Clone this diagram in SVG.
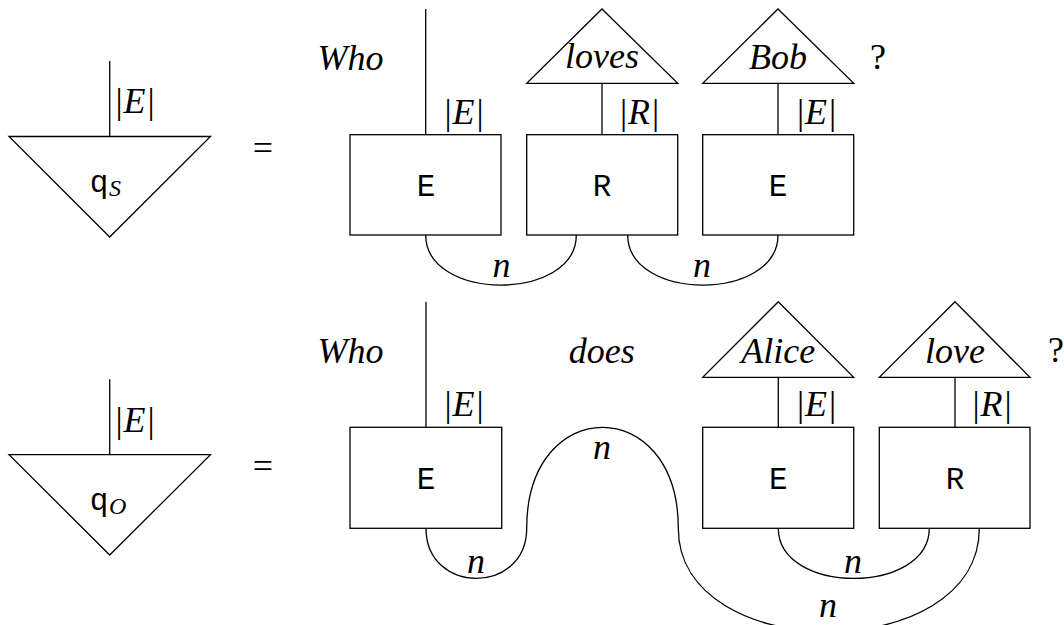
<svg xmlns="http://www.w3.org/2000/svg" width="1064" height="625" viewBox="0 0 1064 625">
<style>
.s{fill:#fff;stroke:#000;stroke-width:1.3}
.w{fill:none;stroke:#000;stroke-width:1.3}
.m{font-family:"Liberation Serif",serif;font-style:italic;font-size:36px;fill:#000;text-anchor:middle}
.r{font-family:"Liberation Serif",serif;font-size:36px;fill:#000;text-anchor:middle}
.t{font-family:"Liberation Mono",monospace;font-size:31px;fill:#000;text-anchor:middle}
.sub{font-family:"Liberation Serif",serif;font-style:italic;font-size:24px;fill:#000}
</style>
<g id="connectors">
<line class="w" x1="109.7" y1="61" x2="109.7" y2="136.5"/>
<line class="w" x1="425.7" y1="9" x2="425.7" y2="134.7"/>
<line class="w" x1="602" y1="83.3" x2="602" y2="134.7"/>
<line class="w" x1="778" y1="83.3" x2="778" y2="134.7"/>
<path class="w" d="M425.7,235 C425.7,301.7 576.3,301.7 576.3,235"/>
<path class="w" d="M627.7,235 C627.7,301.7 778,301.7 778,235"/>
<line class="w" x1="109.7" y1="379.3" x2="109.7" y2="454.7"/>
<line class="w" x1="426" y1="301.7" x2="426" y2="427.3"/>
<line class="w" x1="778.3" y1="377.3" x2="778.3" y2="427.3"/>
<line class="w" x1="955" y1="377.3" x2="955" y2="427.3"/>
<path class="w" d="M426,528.3 C426,595 526.7,595 526.7,528.3 C526.7,393.6 678.3,393.6 678.3,528.3 C678.3,666 979.3,666 979.3,528.3"/>
<path class="w" d="M778.3,528.3 C778.3,595 929.3,595 929.3,528.3"/>
<text class="m" x="134.5" y="113">|E|</text>
<text class="m" x="463.5" y="124">|E|</text>
<text class="m" x="639" y="124">|R|</text>
<text class="m" x="816" y="124">|E|</text>
<text class="m" x="501.5" y="277">n</text>
<text class="m" x="702" y="277">n</text>
<text class="m" x="134.5" y="431.7">|E|</text>
<text class="m" x="463.5" y="416">|E|</text>
<text class="m" x="816" y="416">|E|</text>
<text class="m" x="991.5" y="416">|R|</text>
<text class="m" x="476" y="573">n</text>
<text class="m" x="602" y="459">n</text>
<text class="m" x="853" y="572.5">n</text>
<text class="m" x="828" y="617">n</text>
</g>
<g id="qS">
<polygon class="s" points="9,136.5 210.5,136.5 109.7,237"/>
<text class="t" x="99" y="192">q</text><text class="sub" x="109" y="196">S</text>
</g>
<text class="r" x="263" y="160">=</text>
<text class="m" x="350.5" y="70">Who</text>
<g id="E1"><rect class="s" x="350" y="134.7" width="151" height="100.3"/><text class="t" x="426" y="196">E</text></g>
<g id="loves"><polygon class="s" points="602,9 677.7,83.3 526.7,83.3"/><text class="m" x="602" y="68">loves</text></g>
<g id="R1"><rect class="s" x="526.7" y="134.7" width="151" height="100.3"/><text class="t" x="602" y="196">R</text></g>
<g id="Bob"><polygon class="s" points="778,9 853.7,83.3 702.7,83.3"/><text class="m" x="778" y="69">Bob</text></g>
<g id="E2"><rect class="s" x="702.7" y="134.7" width="151" height="100.3"/><text class="t" x="778" y="196">E</text></g>
<text class="r" x="878" y="69">?</text>
<g id="qO">
<polygon class="s" points="9,454.7 210.5,454.7 109.7,555"/>
<text class="t" x="99" y="510">q</text><text class="sub" x="109" y="514">O</text>
</g>
<text class="r" x="263" y="478">=</text>
<text class="m" x="350.5" y="363">Who</text>
<text class="m" x="601.7" y="363">does</text>
<g id="E3"><rect class="s" x="350" y="427.3" width="151.7" height="101"/><text class="t" x="426" y="489">E</text></g>
<g id="Alice"><polygon class="s" points="778.3,301.7 853.7,377.3 702.7,377.3"/><text class="m" x="778.3" y="363">Alice</text></g>
<g id="E4"><rect class="s" x="702.7" y="427.3" width="151" height="101"/><text class="t" x="778.3" y="489">E</text></g>
<g id="love"><polygon class="s" points="955,301.7 1030,377.3 879.3,377.3"/><text class="m" x="955" y="363">love</text></g>
<g id="R2"><rect class="s" x="879.3" y="427.3" width="150.7" height="101"/><text class="t" x="955" y="489">R</text></g>
<text class="r" x="1056" y="362">?</text>
</svg>
